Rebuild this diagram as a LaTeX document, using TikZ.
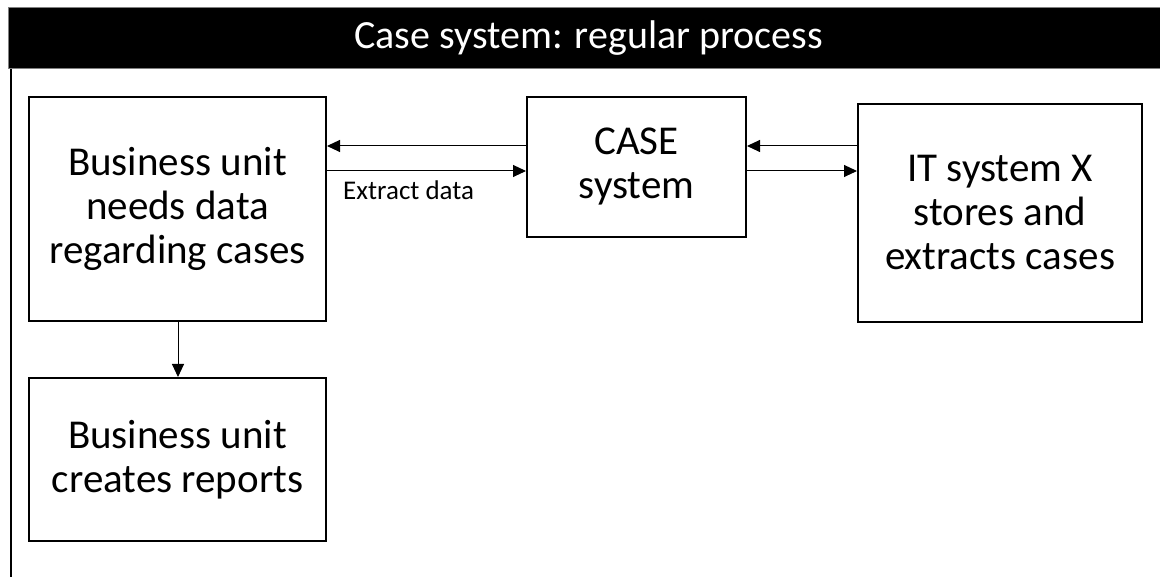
\documentclass[tikz,border=0pt]{standalone}
\usepackage{fontspec}
\setmainfont{Carlito}
\usetikzlibrary{arrows.meta}
\begin{document}
\begin{tikzpicture}[x=1pt,y=1pt,
  box/.style={draw=black, line width=2pt, align=center, inner sep=0pt,
    font=\fontsize{41}{44}\selectfont},
  arr/.style={draw=black, line width=1pt, -{Triangle[length=13pt,width=12pt]}}]
\useasboundingbox (0,0) rectangle (1160,577);
\fill[white] (0,0) rectangle (1160,577);
% title bar
\node[fill=black, draw=gray, line width=1pt, minimum width=1160pt, minimum height=61pt, inner sep=0pt,
  anchor=north west, text=white, font=\fontsize{40}{44}\selectfont] (title) at (8,570)
  {Case system: regular process};
\coordinate (lb) at (11,0);
\draw[line width=2pt] (title.south west -| lb) -- (lb);
% boxes
\node[box, minimum width=297pt, minimum height=224pt] (A) at (177.5,368) {Business unit\\needs data\\regarding cases};
\node[box, minimum width=297pt, minimum height=163pt] (B) at (177.5,117.5) {Business unit\\creates reports};
\node[box, minimum width=219pt, minimum height=140pt] (C) at (636.5,410) {CASE\\system};
\node[box, minimum width=284pt, minimum height=218pt] (D) at (1000,364) {IT system X\\stores and\\extracts cases};
% connectors
\draw[arr] (C.west |- 0,431) -- (A.east |- 0,431);
\draw[arr] (A.east |- 0,406) -- (C.west |- 0,406);
\draw[arr] (D.west |- 0,431) -- (C.east |- 0,431);
\draw[arr] (C.east |- 0,406) -- (D.west |- 0,406);
\draw[arr] (A.south -| 178,0) -- (B.north -| 178,0);
\node[font=\fontsize{27}{30}\selectfont, inner sep=0pt, anchor=west] (lbl) at (343,387) {Extract data};
\end{tikzpicture}
\end{document}
